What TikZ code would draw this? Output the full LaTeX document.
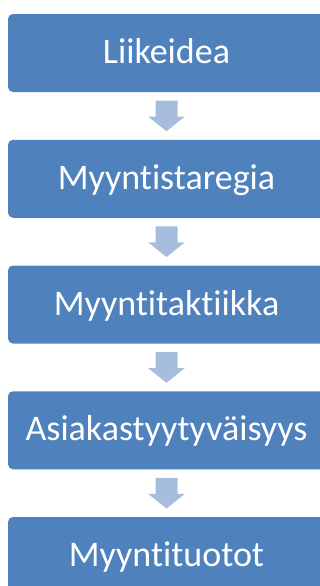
\documentclass[tikz,border=0pt]{standalone}
\usepackage{fontspec}
\setmainfont{Carlito}[Ligatures={NoCommon}]
\usetikzlibrary{calc}

\definecolor{boxblue}{RGB}{79,129,189}
\definecolor{arrowblue}{RGB}{167,189,222}

\tikzset{every picture/.style={line width=0.75pt}}
\tikzset{
	stagebox/.style={fill=boxblue, draw=none, rounded corners=3.75pt, minimum width=237.75pt, minimum height=58.5pt, inner sep=0pt, text=white, font=\fontsize{27}{32}\selectfont, text height=20.5pt, text depth=4.5pt},
	flowarrow/.style={fill=arrowblue, draw=none}
}

\begin{document}
\begin{tikzpicture}[x=0.75pt,y=0.75pt,yscale=-1,xscale=1]
	\useasboundingbox (0,0) rectangle (320,586);
	\clip (0,0) rectangle (320,586);

	%Shape: Rounded Rect
	\node[stagebox] (idea) at (166.5,53) {Liikeidea};
	%Shape: Rounded Rect
	\node[stagebox] (strategy) at (166.5,178.75) {Myyntistaregia};
	%Shape: Rounded Rect
	\node[stagebox] (tactics) at (166.5,304.5) {Myyntitaktiikka};
	%Shape: Rounded Rect
	\node[stagebox] (satisfaction) at (166.5,430.25) {Asiakastyytyväisyys};
	%Shape: Rounded Rect
	\node[stagebox] (revenue) at (166.5,556) {Myyntituotot};

	%Down Arrows
	\foreach \from/\to in {idea/strategy, strategy/tactics, tactics/satisfaction, satisfaction/revenue}
		\fill[flowarrow] ($(\from.south)+(-11,8)$) -- ($(\from.south)+(11,8)$) -- ($(\from.south)+(11,24)$) -- ($(\from.south)+(18.5,24)$) -- ($(\to.north)+(0,-8)$) -- ($(\from.south)+(-18.5,24)$) -- ($(\from.south)+(-11,24)$) -- cycle;

\end{tikzpicture}
\end{document}
